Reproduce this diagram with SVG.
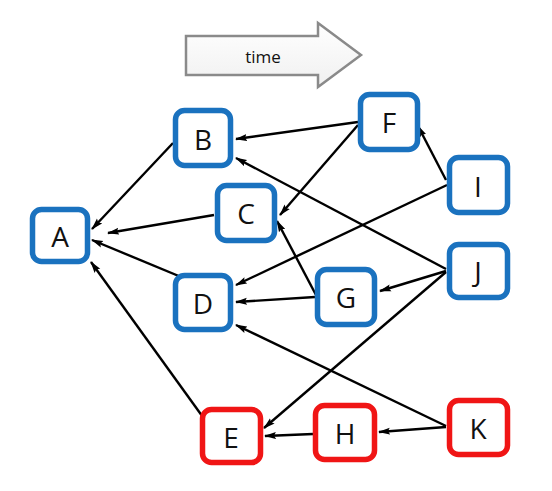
<svg xmlns="http://www.w3.org/2000/svg" width="552" height="491" viewBox="0 0 552 491">
<defs>
<marker id="ah" viewBox="0 0 12 8" refX="11" refY="4" markerWidth="12" markerHeight="8" markerUnits="userSpaceOnUse" orient="auto">
<path d="M0,0.5 L12,4 L0,7.5 L2,4 Z" fill="#000"/>
</marker>
<linearGradient id="tg" x1="0" y1="0" x2="0" y2="1">
<stop offset="0" stop-color="#ffffff"/>
<stop offset="1" stop-color="#f0f0f0"/>
</linearGradient>
</defs>
<style>
.n rect{fill:#fff;stroke-width:5.5}
.b rect{stroke:#1a72bf}
.r rect{stroke:#f01515}
.n text{font-family:"Open Sans","Liberation Sans",sans-serif;font-size:28px;fill:#111;text-anchor:middle;dominant-baseline:central}
#edges line{stroke:#000;stroke-width:2.4;marker-end:url(#ah)}
</style>
<rect width="552" height="491" fill="#fff"/>
<g id="time">
<path d="M186,36 L318,36 L318,23 L361,55 L318,87 L318,75 L186,75 Z" fill="url(#tg)" stroke="#8a8a8a" stroke-width="2.5"/>
<text x="263" y="56" font-family="Open Sans, Liberation Sans, sans-serif" font-size="17" text-anchor="middle" dominant-baseline="central" fill="#111">time</text>
</g>
<g id="edges">
<line x1="173" y1="143" x2="92" y2="229"/>
<line x1="214" y1="215" x2="108" y2="233"/>
<line x1="198" y1="284" x2="92" y2="240"/>
<line x1="205" y1="420" x2="91" y2="262"/>
<line x1="358" y1="122" x2="236" y2="139"/>
<line x1="358" y1="125" x2="280" y2="215"/>
<line x1="446" y1="269" x2="236" y2="158"/>
<line x1="446" y1="180" x2="418" y2="126"/>
<line x1="447" y1="185" x2="236" y2="285"/>
<line x1="316" y1="295" x2="277" y2="221"/>
<line x1="315" y1="297" x2="236" y2="302"/>
<line x1="446" y1="271" x2="380" y2="291"/>
<line x1="446" y1="272" x2="264" y2="428"/>
<line x1="446" y1="426" x2="236" y2="325"/>
<line x1="446" y1="427" x2="379" y2="432"/>
<line x1="313" y1="434" x2="265" y2="436"/>
</g>
<g id="A" class="n b"><rect x="32.5" y="209.5" width="55" height="52" rx="9"/><text x="60" y="236">A</text></g>
<g id="B" class="n b"><rect x="175.5" y="110.5" width="55" height="55" rx="9"/><text x="203" y="139">B</text></g>
<g id="C" class="n b"><rect x="217.5" y="185.5" width="57" height="55" rx="9"/><text x="246" y="213">C</text></g>
<g id="D" class="n b"><rect x="175.5" y="275.5" width="55" height="54" rx="9"/><text x="203" y="303">D</text></g>
<g id="F" class="n b"><rect x="360.5" y="94.5" width="57" height="55" rx="9"/><text x="389" y="122">F</text></g>
<g id="I" class="n b"><rect x="449.5" y="157.5" width="58" height="55" rx="9"/><text x="478" y="186">I</text></g>
<g id="J" class="n b"><rect x="449.5" y="244.5" width="58" height="53" rx="9"/><text x="478" y="271">J</text></g>
<g id="G" class="n b"><rect x="317.5" y="269.5" width="57" height="55" rx="9"/><text x="346" y="297">G</text></g>
<g id="E" class="n r"><rect x="202.5" y="409.5" width="58" height="53" rx="9"/><text x="231" y="437">E</text></g>
<g id="H" class="n r"><rect x="315.5" y="405.5" width="59" height="54" rx="9"/><text x="345" y="433">H</text></g>
<g id="K" class="n r"><rect x="449.5" y="400.5" width="58" height="54" rx="9"/><text x="478" y="428">K</text></g>
</svg>
